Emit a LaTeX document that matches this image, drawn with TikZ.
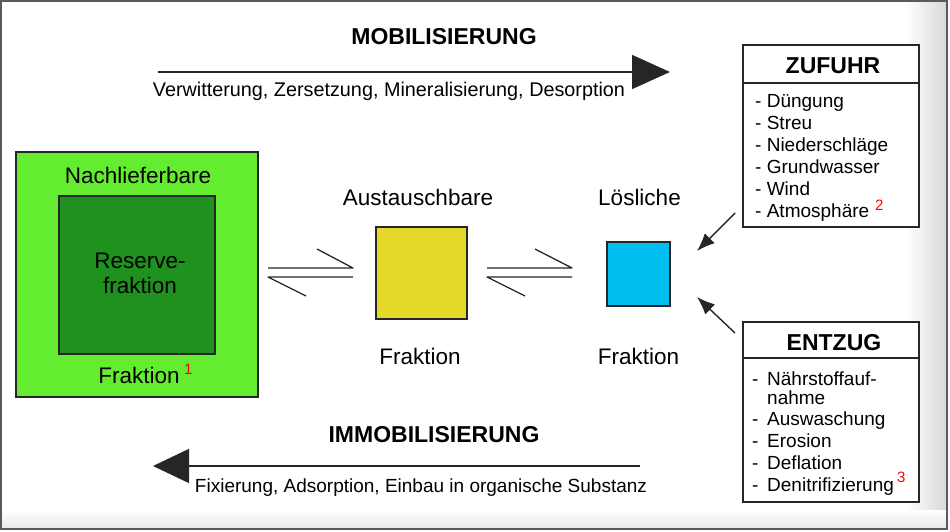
\documentclass[tikz,border=0pt]{standalone}
\usepackage{fontspec}
\setmainfont{Liberation Sans}
\usetikzlibrary{arrows.meta}
\definecolor{lgreen}{RGB}{100,236,48}
\definecolor{dgreen}{RGB}{30,145,30}
\definecolor{fyellow}{RGB}{228,216,40}
\definecolor{fblue}{RGB}{0,190,240}
\definecolor{framegray}{RGB}{90,90,90}
\begin{document}
\begin{tikzpicture}[x=1pt,y=-1pt,
  lbl/.style={font=\fontsize{22.5}{26}\selectfont, inner sep=0, anchor=base},
  lst/.style={font=\fontsize{19}{22}\selectfont, inner sep=0, anchor=base west},
  hdr/.style={font=\bfseries\fontsize{23}{26}\selectfont, inner sep=0, anchor=base},
  sub/.style={font=\fontsize{19.4}{22}\selectfont, inner sep=0, anchor=base},
  note/.style={font=\fontsize{15}{15}\selectfont, text=red, inner sep=0, anchor=base west},
  sq/.style={draw=black!85, line width=1.3pt, inner sep=0},
  conn/.style={line width=1.4pt, draw=black!85},
  eq/.style={line width=1.3pt, draw=black!85, line join=round}]
\useasboundingbox (0,0) rectangle (950,532);
% frame with shadow
\fill[white] (0,0) rectangle (950,532);
\shade[left color=white, right color=gray!30] (905,2) rectangle (946,528);
\shade[top color=white, bottom color=gray!18] (2,510) rectangle (946,528);
\draw[framegray, line width=1.5pt] (1,1) rectangle (947,529);

% fraction boxes
\node[sq, fill=lgreen, minimum width=242pt, minimum height=245pt] (nach) at (137,274.5) {};
\node[sq, fill=dgreen, minimum width=156pt, minimum height=158pt] (reserve) at (137,275) {};
\node[sq, fill=fyellow, minimum width=91pt, minimum height=92pt] (aust) at (421.5,273) {};
\node[sq, fill=fblue, minimum width=63pt, minimum height=64pt] (loes) at (638.5,274) {};

\node[lbl] (tnach) at (138,183) {Nachlieferbare};
\node[lbl] (tres1) at (140,268) {Reserve-};
\node[lbl] (tres2) at (140,293) {fraktion};
\node[lbl] (fnach) at (139,383) {Fraktion};
\node[note] (n1) at (184,374) {1};

\node[lbl] (taust) at (418,205) {Austauschbare};
\node[lbl] (faust) at (420,364) {Fraktion};
\node[lbl] (tloes) at (639.5,205) {Lösliche};
\node[lbl] (floes) at (638.5,364) {Fraktion};

% equilibrium arrows
\coordinate (e1a) at (268,268); \coordinate (e1b) at (353,268); \coordinate (e1c) at (317,249);
\coordinate (e1d) at (353,277); \coordinate (e1e) at (268,277); \coordinate (e1f) at (306,296);
\draw[eq] (e1a) -- (e1b) -- (e1c);
\draw[eq] (e1d) -- (e1e) -- (e1f);
\coordinate (e2a) at (487,268); \coordinate (e2b) at (572,268); \coordinate (e2c) at (535,249);
\coordinate (e2d) at (572,277); \coordinate (e2e) at (487,277); \coordinate (e2f) at (525,296);
\draw[eq] (e2a) -- (e2b) -- (e2c);
\draw[eq] (e2d) -- (e2e) -- (e2f);

% mobilisation
\node[hdr] (mob) at (444,45) {MOBILISIERUNG};
\coordinate (m1) at (158,72); \coordinate (m2) at (670,72);
\draw[conn, -{Triangle[length=38pt,width=34pt]}] (m1) -- (m2);
\node[sub, font=\fontsize{19.8}{22}\selectfont] (mobt) at (389,97) {Verwitterung, Zersetzung, Mineralisierung, Desorption};

% immobilisation
\node[hdr] (imm) at (434,442) {IMMOBILISIERUNG};
\coordinate (i1) at (640,466); \coordinate (i2) at (153,466);
\draw[conn, -{Triangle[length=36pt,width=34pt]}] (i1) -- (i2);
\node[sub, font=\fontsize{19}{22}\selectfont] (immt) at (421,492) {Fixierung, Adsorption, Einbau in organische Substanz};

% ZUFUHR
\node[sq, fill=white, minimum width=176pt, minimum height=182pt] (zuf) at (831,136) {};
\draw[conn] (zuf.west |- 0,83) -- (zuf.east |- 0,83);
\node[hdr] (zufh) at (833,74) {ZUFUHR};
\node[lst] (z1) at (755,108) {- Düngung};
\node[lst] (z2) at (755,130) {- Streu};
\node[lst] (z3) at (755,151) {- Niederschläge};
\node[lst] (z4) at (755,173) {- Grundwasser};
\node[lst] (z5) at (755,195) {- Wind};
\node[lst] (z6) at (755,217) {- Atmosphäre};
\node[note] (n2) at (875,210) {2};

% ENTZUG
\node[sq, fill=white, minimum width=176pt, minimum height=180pt] (ent) at (831,412) {};
\draw[conn] (ent.west |- 0,358) -- (ent.east |- 0,358);
\node[hdr] (enth) at (834,350) {ENTZUG};
\foreach \y/\t [count=\k] in {385/Nährstoffauf-,404/nahme,425/Auswaschung,447/Erosion,469/Deflation,491/Denitrifizierung}{
  \node[lst] (y\k) at (767,\y) {\t};
}
\foreach \y [count=\k] in {385,425,447,469,491}{
  \node[lst] (d\k) at (752,\y) {-};
}
\node[note] (n3) at (897,482) {3};

% supply / withdrawal arrows
\coordinate (za) at (735,213); \coordinate (zb) at (697,251);
\coordinate (ea) at (735,333); \coordinate (eb) at (697,297);
\draw[conn, -{Latex[length=18pt,width=14pt]}] (za) -- (zb);
\draw[conn, -{Latex[length=18pt,width=14pt]}] (ea) -- (eb);
\end{tikzpicture}
\end{document}
